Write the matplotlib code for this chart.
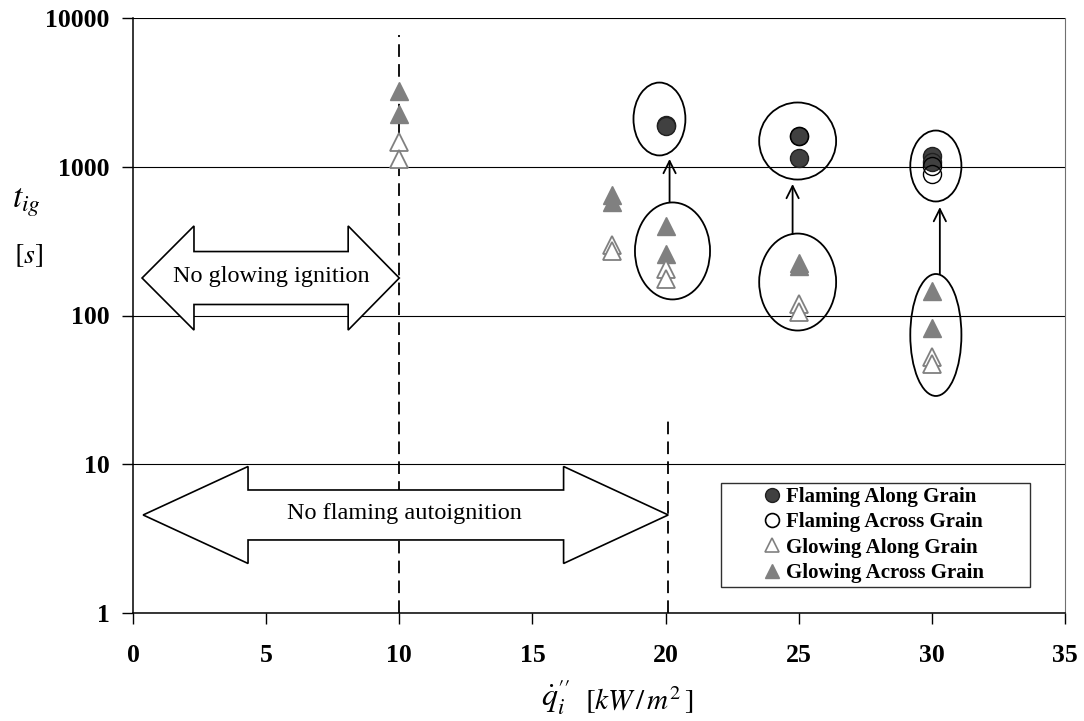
import numpy as np
import matplotlib
matplotlib.use("Agg")
import matplotlib.pyplot as plt
from matplotlib.patches import Ellipse, Polygon, Rectangle
from matplotlib.lines import Line2D
from matplotlib.ticker import FixedLocator, NullLocator, FuncFormatter
from matplotlib.transforms import Affine2D

plt.rcParams['font.family'] = ['Liberation Serif', 'DejaVu Serif']
plt.rcParams['mathtext.fontset'] = 'stix'

# heat flux [kW/m2] and ignition time [s]
flaming_along_x = [20, 20, 25, 25, 30, 30]
flaming_along_y = [1920, 1870, 1600, 1140, 1180, 1080]
flaming_across_x = [25, 30, 30]
flaming_across_y = [1600, 1010, 890]
glowing_along_x = [10, 10, 18, 18, 20, 20, 25, 25, 30, 30]
glowing_along_y = [1470, 1130, 300, 272, 205, 176, 119, 106, 53, 47.5]
glowing_across_x = [10, 10, 18, 18, 20, 20, 25, 25, 30, 30]
glowing_across_y = [3230, 2260, 650, 580, 400, 260, 225, 215, 145, 82]

x_ticks = [0, 5, 10, 15, 20, 25, 30, 35]
y_ticks = [1, 10, 100, 1000, 10000]

fig = plt.figure(figsize=(10.84, 7.21), dpi=100)
ax = fig.add_axes([133 / 1084, 1 - 613 / 721, 932 / 1084, 595 / 721])
ax.set_xlim(0, 35)
ax.set_ylim(1, 10000)
ax.set_yscale('log')

ax.xaxis.set_major_locator(FixedLocator(x_ticks))
ax.yaxis.set_major_locator(FixedLocator(y_ticks))
ax.yaxis.set_minor_locator(NullLocator())
ax.yaxis.set_major_formatter(FuncFormatter(lambda v, p: '%d' % v))
ax.tick_params(direction='out', length=8, width=1, labelsize=18.5, pad=9)
ax.tick_params(axis='x', pad=14)
for lab in ax.get_xticklabels() + ax.get_yticklabels():
    lab.set_fontweight('bold')
ax.grid(axis='y', color='black', lw=0.8)
ax.spines['top'].set_visible(False)
ax.spines['right'].set_color('#707070')
ax.spines['right'].set_linewidth(0.8)
for s in ['left', 'bottom']:
    ax.spines[s].set_linewidth(1.1)

# (x, log10 t) space for annotations
tr = Affine2D().scale(1 / 35, 1 / 4) + ax.transAxes

ax.plot(glowing_across_x, glowing_across_y, ls='none', marker='^', ms=13,
        mfc='#808080', mec='#808080', zorder=3)
ax.plot(glowing_along_x, glowing_along_y, ls='none', marker='^', ms=13,
        mfc='white', mec='#808080', mew=1.3, zorder=3)
ax.plot(flaming_along_x, flaming_along_y, ls='none', marker='o', ms=13,
        mfc='#404040', mec='#202020', mew=1, zorder=4)
ax.plot(flaming_across_x, flaming_across_y, ls='none', marker='o', ms=13,
        mfc='none', mec='black', mew=1, zorder=4)

# dashed boundaries
ax.plot([10, 10], [1, 7700], color='black', ls=(0, (7, 4)), lw=1.3, zorder=2)
ax.plot([20.1, 20.1], [1, 20], color='black', ls=(0, (7, 4)), lw=1.3, zorder=2)

# ellipses around grouped points
ellipses = [
    (19.77, 3.321, 1.95, 0.49),
    (20.26, 2.434, 2.82, 0.652),
    (24.96, 3.173, 2.89, 0.518),
    (24.96, 2.225, 2.89, 0.652),
    (30.15, 3.005, 1.92, 0.477),
    (30.15, 1.869, 1.92, 0.82),
]
for cx, cy, w, h in ellipses:
    ax.add_patch(Ellipse((cx, cy), w, h, transform=tr, fill=False,
                         ec='black', lw=1.3, zorder=5))

arrows = [(20.15, 2.763, 3.052), (24.77, 2.548, 2.884), (30.3, 2.279, 2.729)]
for ax_x, y0, y1 in arrows:
    ax.annotate('', xy=(ax_x, y1), xytext=(ax_x, y0), xycoords=tr,
                textcoords=tr,
                arrowprops=dict(arrowstyle='->', lw=1.3, color='black',
                                mutation_scale=22, shrinkA=0, shrinkB=0),
                zorder=5)


def block_arrow(x0, x1, xb0, xb1, yc, hs, hh):
    pts = [(x0, yc), (xb0, yc + hh), (xb0, yc + hs), (xb1, yc + hs),
           (xb1, yc + hh), (x1, yc), (xb1, yc - hh), (xb1, yc - hs),
           (xb0, yc - hs), (xb0, yc - hh)]
    ax.add_patch(Polygon(pts, closed=True, transform=tr, fc='white',
                         ec='black', lw=1.2, zorder=2.5))


block_arrow(0.34, 10.0, 2.29, 8.08, 2.252, 0.178, 0.35)
ax.text(5.2, 10 ** 2.262, 'No glowing ignition', ha='center', va='center',
        fontsize=17.5, zorder=6)
block_arrow(0.38, 20.1, 4.32, 16.17, 0.659, 0.168, 0.326)
ax.text(10.2, 10 ** 0.669, 'No flaming autoignition', ha='center',
        va='center', fontsize=17.5, zorder=6)

# legend
handles = [
    Line2D([], [], ls='none', marker='o', ms=10, mfc='#404040', mec='#202020'),
    Line2D([], [], ls='none', marker='o', ms=10, mfc='white', mec='black',
           mew=1.2),
    Line2D([], [], ls='none', marker='^', ms=10, mfc='white', mec='#808080',
           mew=1.2),
    Line2D([], [], ls='none', marker='^', ms=10, mfc='#808080', mec='#808080'),
]
labels = ['Flaming Along Grain', 'Flaming Across Grain', 'Glowing Along Grain',
          'Glowing Across Grain']
ax.add_patch(Rectangle((0.631, 0.0437), 0.3315, 0.1748,
                       transform=ax.transAxes, fc='white', ec='#303030',
                       lw=1, zorder=6))
leg = ax.legend(handles, labels, loc='center', bbox_to_anchor=(0.795, 0.131),
                frameon=False, handlelength=0.8, handletextpad=0.3,
                labelspacing=0.26, borderpad=0,
                prop=dict(family='Liberation Serif', weight='bold', size=15))
leg.set_zorder(7)

# axis titles
fig.text(26 / 1084, 1 - 203 / 721, '$t_{ig}$', fontsize=24, ha='center',
         va='center')
fig.text(28 / 1084, 1 - 256 / 721, '$[s]$', fontsize=20, ha='center',
         va='center')
fig.text(556 / 1084, 1 - 697 / 721, "$\\dot{q}_{i}^{\\prime\\prime}$",
         fontsize=23, ha='center', va='center')
fig.text(585 / 1084, 1 - 700 / 721, '$[kW\\,/\\,m^2\\,]$', fontsize=21,
         ha='left', va='center')

fig.savefig('out.png', dpi=100)
